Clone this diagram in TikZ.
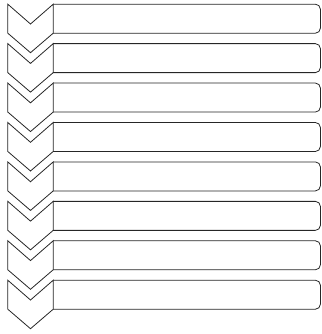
\documentclass[tikz,border=0pt]{standalone}
\usepackage{tikz}
\usetikzlibrary{calc}
\definecolor{lsline}{HTML}{262626}

\begin{document}
\begin{tikzpicture}[x=1pt,y=-1pt,line width=0.8pt,
    chev/.style={draw=lsline,fill=white,line join=miter},
    bar/.style={draw=lsline,rounded corners=5pt}]
    \useasboundingbox (0,0) rectangle (321,334);
    \foreach \i in {0,...,7}{
      \coordinate (top\i) at (7.8,{4.2+39.43*\i});
      \coordinate (edge\i) at ($(top\i)+(45.4,0)$);
      \draw[chev] (top\i) -- ++(22.7,19.8) -- (edge\i) -- ++(0,29) -- ++(-22.7,19.5) -- ++(-22.7,-19.5) -- cycle;
      \draw[bar] (edge\i) -- (320.4,0|-edge\i) -- ($(320.4,0|-edge\i)+(0,29)$) -- ($(edge\i)+(0,29)$);
    }
  \end{tikzpicture}
\end{document}
